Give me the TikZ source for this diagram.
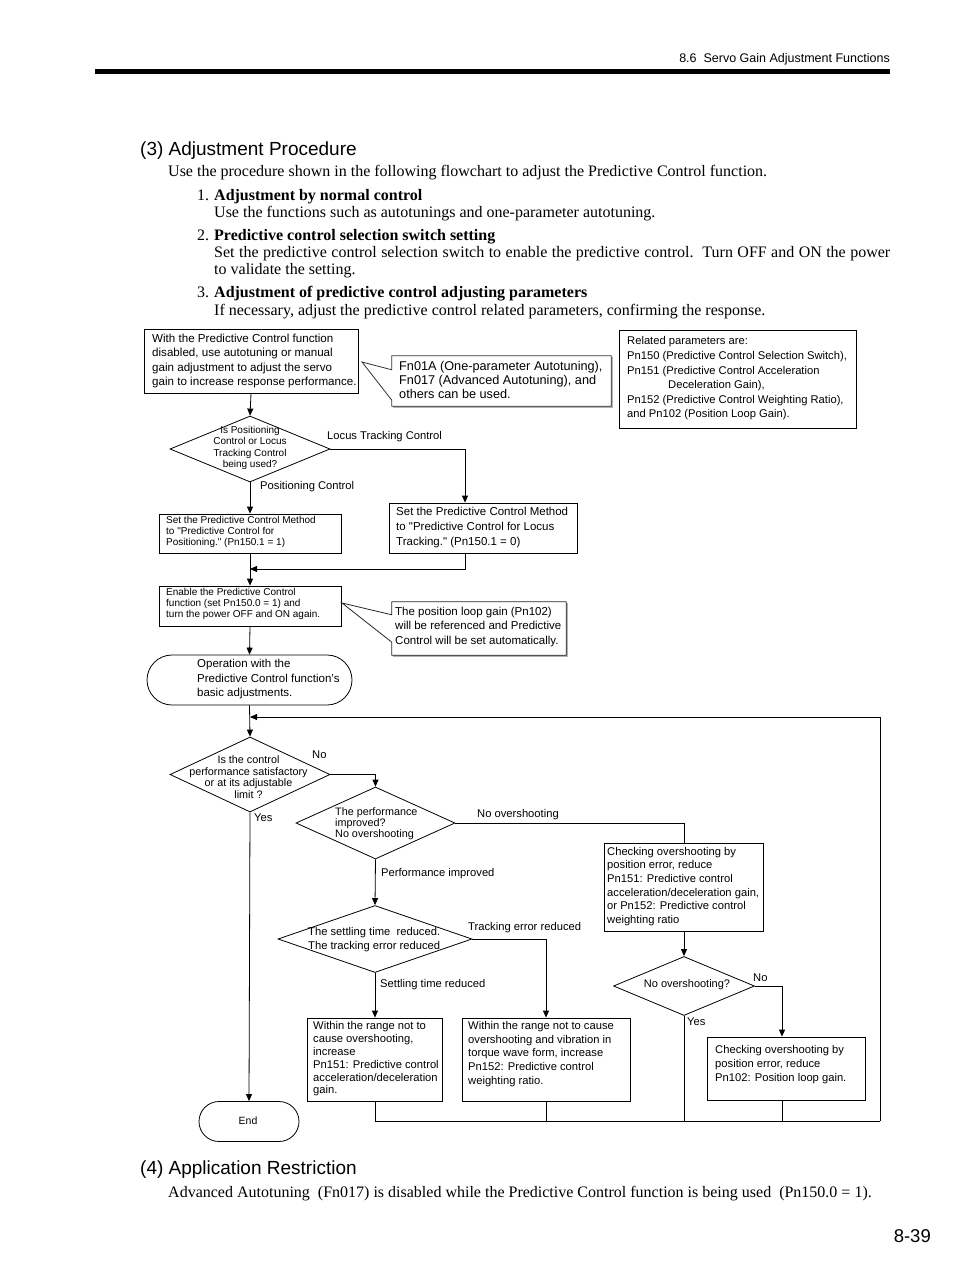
\documentclass[tikz,border=0pt]{standalone}
\usepackage{fontspec}
\setmainfont{Liberation Serif}
\newfontfamily\arialf{Liberation Sans}
\usetikzlibrary{arrows.meta,calc,shapes.geometric,shapes.misc}
\begin{document}
\begin{tikzpicture}[x=1pt,y=-1pt,
  ln/.style={line width=0.8pt},
  arr/.style={ln,-{Triangle[length=7pt,width=6pt]}},
  boxs/.style={draw,ln,rectangle,inner sep=0pt},
  dia/.style={draw,ln,diamond,inner sep=0pt},
  term/.style={draw,ln,rounded rectangle,inner sep=0pt},
  ft/.style={inner sep=0pt,align=left,anchor=west,font=\arialf\fontsize{11.2}{13.6}\selectfont},
  fs/.style={inner sep=0pt,align=left,anchor=west,font=\arialf\fontsize{10}{11}\selectfont},
  lab/.style={inner sep=0pt,anchor=west,font=\arialf\fontsize{11.2}{13}\selectfont},
  body/.style={inner sep=0pt,anchor=base west,font=\fontsize{16}{17}\selectfont},
  sect/.style={inner sep=0pt,anchor=base west,font=\arialf\fontsize{19}{21}\selectfont},
]
\useasboundingbox (0,0) rectangle (954,1274);

% ---------- page header ----------
\node[inner sep=0pt,anchor=base east,font=\arialf\fontsize{12.5}{14}\selectfont] (hdr) at (890,62) {8.6\ \ Servo Gain Adjustment Functions};
\fill (95,69) rectangle (890,74);

\node[sect] (s3) at (140,155) {(3) Adjustment Procedure};
\node[body] (p0) at (168,176) {Use the procedure shown in the following flowchart to adjust the Predictive Control function.};
\node[body] (n1) at (197,200) {1.};
\node[body] (t1) at (214,200) {\bfseries Adjustment by normal control};
\node[body] (b1) at (214,217) {Use the functions such as autotunings and one-parameter autotuning.};
\node[body] (n2) at (197,240) {2.};
\node[body] (t2) at (214,240) {\bfseries Predictive control selection switch setting};
\node[body] (b2) at (214,257) {\frenchspacing\hbox to 676pt{Set the predictive control selection switch to enable the predictive control.\ \ Turn OFF and ON the power}};
\node[body] (b2b) at (214,274) {to validate the setting.};
\node[body] (n3) at (197,297) {3.};
\node[body] (t3) at (214,297) {\bfseries Adjustment of predictive control adjusting parameters};
\node[body] (b3) at (214,315) {If necessary, adjust the predictive control related parameters, confirming the response.};

% ---------- flowchart: upper part ----------
\node[boxs,minimum width=214,minimum height=64] (A) at (251,361) {};
\node[ft,font=\arialf\fontsize{11.6}{14.5}\selectfont] (At) at (152,361) {With the Predictive Control function\\disabled, use autotuning or manual\\gain adjustment to adjust the servo\\gain to increase response performance.};

\node[inner sep=0pt,minimum width=219,minimum height=50] (B) at (501.5,381) {};
\coordinate (tipB) at (362,362);
\draw[gray!60,line width=1.3pt] ($(B.north east)+(0.8,1)$) -- ($(B.south east)+(0.8,0.8)$) -- ($(B.south west)+(1,0.8)$);
\draw[ln,black!80] (B.north west) -- (B.north east) -- (B.south east) -- (B.south west) -- ($(B.south west)+(0,-6)$) -- (tipB) -- ($(B.north west)+(0,14)$) -- cycle;
\node[ft,font=\arialf\fontsize{12.7}{14}\selectfont] (Bt) at (399,380) {Fn01A (One-parameter Autotuning),\\Fn017 (Advanced Autotuning), and\\others can be used.};

\node[boxs,minimum width=237,minimum height=98] (R) at (737.5,379) {};
\node[ft,font=\arialf\fontsize{11.2}{14.6}\selectfont] (Rt) at (627,378.5) {Related parameters are:\\Pn150 (Predictive Control Selection Switch),\\Pn151 (Predictive Control Acceleration\\\hspace*{41pt}Deceleration Gain),\\Pn152 (Predictive Control Weighting Ratio),\\and Pn102 (Position Loop Gain).};

\node[dia,minimum width=160,minimum height=66] (d1) at (250,449) {};
\node[inner sep=0pt,align=center,font=\arialf\fontsize{10}{11.3}\selectfont] (d1t) at (250,448) {Is Positioning\\Control or Locus\\Tracking Control\\being used?};
\node[lab] (l1) at (327,437) {Locus Tracking Control};
\node[lab] (l2) at (260,487) {Positioning Control};

\node[boxs,minimum width=182,minimum height=39] (P) at (250,533.5) {};
\node[fs] (Pt) at (166,532) {Set the Predictive Control Method\\to "Predictive Control for\\Positioning." (Pn150.1 = 1)};

\node[boxs,minimum width=188,minimum height=50] (L) at (483,528) {};
\node[ft,font=\arialf\fontsize{11.5}{15}\selectfont] (Lt) at (396,528) {Set the Predictive Control Method\\to "Predictive Control for Locus\\Tracking." (Pn150.1 = 0)};

\node[boxs,minimum width=182,minimum height=40] (E) at (250,606) {};
\node[fs] (Et) at (166,604) {Enable the Predictive Control\\function (set Pn150.0 = 1) and\\turn the power OFF and ON again.};

\node[inner sep=0pt,minimum width=174,minimum height=53] (Q) at (479,628.5) {};
\coordinate (tipQ) at (342,603);
\draw[gray!60,line width=1.3pt] ($(Q.north east)+(0.8,1)$) -- ($(Q.south east)+(0.8,0.8)$) -- ($(Q.south west)+(1,0.8)$);
\draw[ln,black!85] (Q.north west) -- (Q.north east) -- (Q.south east) -- (Q.south west) -- ($(Q.south west)+(0,-13)$) -- (tipQ) -- ($(Q.north west)+(0,13)$) -- cycle;
\node[ft,font=\arialf\fontsize{11.5}{14.5}\selectfont] (Qt) at (395,627) {The position loop gain (Pn102)\\will be referenced and Predictive\\Control will be set automatically.};

\node[term,minimum width=205,minimum height=50] (op) at (249.5,680) {};
\node[ft,font=\arialf\fontsize{11.5}{14.5}\selectfont] (opt) at (197,679.5) {Operation with the\\Predictive Control function’s\\basic adjustments.};

% ---------- flowchart: adjustment loop ----------
\node[dia,minimum width=160,minimum height=75] (d2) at (250,774.5) {};
\node[inner sep=0pt,align=center,font=\arialf\fontsize{10.8}{11.5}\selectfont] (d2t) at (248.5,777) {Is the control\\performance satisfactory\\or at its adjustable\\limit ?};
\node[lab] (l3) at (312,755) {No};
\node[lab] (l4) at (254,818) {Yes};

\node[dia,minimum width=159,minimum height=72] (d3) at (375.5,823) {};
\node[ft,font=\arialf\fontsize{10.8}{11.3}\selectfont] (d3t) at (335,823.5) {The performance\\improved?\\No overshooting};
\node[lab] (l5) at (477,815) {No overshooting};
\node[lab] (l6) at (381,874) {Performance improved};

\node[boxs,minimum width=159,minimum height=88] (C1) at (684,887) {};
\node[ft,font=\arialf\fontsize{11.2}{13.7}\selectfont] (C1t) at (607,886.5) {Checking overshooting by\\position error, reduce\\Pn151: Predictive control\\acceleration/deceleration gain,\\or Pn152: Predictive control\\weighting ratio};

\node[dia,minimum width=194,minimum height=67] (d4) at (375,939) {};
\node[ft,font=\arialf\fontsize{11.2}{14}\selectfont] (d4t) at (308,940) {The settling time\ \ reduced.\\The tracking error reduced};
\node[lab] (l7) at (468,928) {Tracking error reduced};
\node[lab] (l8) at (380,985) {Settling time reduced};

\node[dia,minimum width=141,minimum height=59] (d5) at (684,986) {};
\node[inner sep=0pt,font=\arialf\fontsize{11}{13}\selectfont] (d5t) at (687,985) {No overshooting?};
\node[lab] (l9) at (753,978) {No};
\node[lab] (l10) at (687,1022) {Yes};

\node[boxs,minimum width=135,minimum height=83] (W1) at (375,1059.5) {};
\node[ft,font=\arialf\fontsize{11.2}{12.8}\selectfont] (W1t) at (313,1059) {Within the range not to\\cause overshooting,\\increase\\Pn151: Predictive control\\acceleration/deceleration\\gain.};

\node[boxs,minimum width=168,minimum height=83] (W2) at (546,1059.5) {};
\node[ft,font=\arialf\fontsize{11.2}{13.6}\selectfont] (W2t) at (468,1054) {Within the range not to cause\\overshooting and vibration in\\torque wave form, increase\\Pn152: Predictive control\\weighting ratio.};

\node[boxs,minimum width=158,minimum height=63] (C2) at (786,1068.5) {};
\node[ft,font=\arialf\fontsize{11.2}{14}\selectfont] (C2t) at (715,1065) {Checking overshooting by\\position error, reduce\\Pn102: Position loop gain.};

\node[term,minimum width=100,minimum height=40] (end) at (249,1121.5) {};
\node[inner sep=0pt,font=\arialf\fontsize{10.5}{12}\selectfont] (endt) at (248,1121) {End};

% ---------- connectors ----------
\coordinate (j1) at (250,569);
\coordinate (j2) at (250,717);
\coordinate (br) at (880,1121);
\draw[arr] (A.south) -- (d1.north);
\draw[arr] (d1.east) -| ([xshift=-18pt]L.north);
\draw[arr] (d1.south) -- (P.north);
\draw[arr] ([xshift=-18pt]L.south) |- (j1);
\draw[arr] (P.south) -- (E.north);
\draw[arr] (E.south) -- (op.north);
\draw[arr] (op.south) -- (d2.north);
\draw[arr] (d2.east) -| (d3.north);
\draw[arr] (d2.south) -- (end.north);
\draw[ln] (d3.east) -| (C1.north);
\draw[arr] (d3.south) -- (d4.north);
\draw[arr] (C1.south) -- (d5.north);
\draw[arr] (d4.east) -| (W2.north);
\draw[arr] (d4.south) -- (W1.north);
\draw[arr] (d5.east) -| ([xshift=-4pt]C2.north);
\draw[ln] (W1.south) |- (br);
\draw[ln] (W2.south) -- (W2.south |- br);
\draw[ln] (d5.south) -- (d5.south |- br);
\draw[ln] ([xshift=-4pt]C2.south) -- ([xshift=-4pt]C2.south |- br);
\draw[arr] (br) |- (j2);

% ---------- bottom section ----------
\node[sect] (s4) at (140,1174) {(4) Application Restriction};
\node[body] (p4) at (168,1197) {Advanced Autotuning\ \ (Fn017) is disabled while the Predictive Control function is being used\ \ (Pn150.0 = 1).};
\node[inner sep=0pt,anchor=base east,font=\arialf\fontsize{18.5}{20}\selectfont] (pg) at (931,1242) {8-39};
\end{tikzpicture}
\end{document}
